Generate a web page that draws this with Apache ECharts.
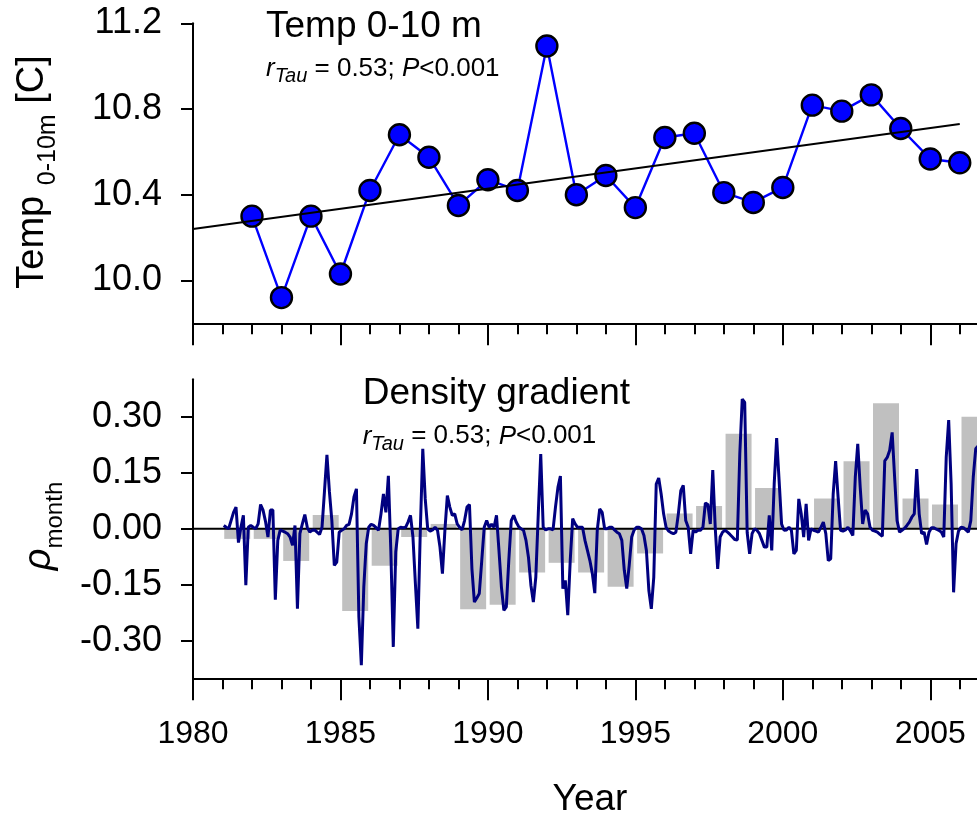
<!DOCTYPE html>
<html>
<head>
<meta charset="utf-8">
<script src="https://cdn.jsdelivr.net/npm/echarts@6/dist/echarts.min.js"></script>
<style>
  html, body { margin: 0; padding: 0; background: #fff; }
  #chart { width: 977px; height: 820px; }
</style>
</head>
<body>
<div id="chart"></div>
<script>
// Annual mean temperature of the 0-10 m layer
const tempYears = [1982, 1983, 1984, 1985, 1986, 1987, 1988, 1989, 1990, 1991, 1992, 1993, 1994,
  1995, 1996, 1997, 1998, 1999, 2000, 2001, 2002, 2003, 2004, 2005, 2006];
const tempValues = [10.30, 9.92, 10.30, 10.03, 10.42, 10.68, 10.575, 10.35, 10.47, 10.42, 11.094, 10.40, 10.49,
  10.34, 10.667, 10.687, 10.41, 10.364, 10.434, 10.818, 10.79, 10.866, 10.709, 10.567, 10.549];

// Linear trend of the temperature series (end points)
const trendYears = [1980, 2006];
const trendValues = [10.24, 10.73];

// Monthly density gradient anomaly, January 1981 onwards
const densityStartYear = 1981;
const densityMonthly = [
  0.009, 0.004, 0.0, 0.022, 0.044, 0.058, -0.037, 0.004, 0.036, -0.151, 0.004, 0.009,
  0.004, 0.0, 0.013, 0.065, 0.05, 0.02, -0.022, 0.05, 0.05, -0.19, -0.031, -0.003,
  -0.006, -0.009, -0.013, -0.022, -0.044, 0.009, -0.214, -0.013, 0.013, 0.038, 0.004, -0.009,
  -0.004, -0.003, -0.009, -0.015, 0.004, 0.10, 0.198, 0.10, 0.022, -0.098, -0.089, -0.009,
  -0.004, 0.0, 0.009, 0.012, 0.04, 0.085, 0.107, -0.236, -0.365, -0.156, -0.04, 0.004,
  0.012, 0.009, 0.003, -0.004, 0.04, 0.093, 0.044, 0.142, -0.058, -0.316, -0.062, 0.0,
  0.004, 0.003, 0.004, 0.018, 0.036, -0.022, -0.147, -0.267, -0.004, 0.214, 0.08, 0.0,
  -0.006, -0.003, 0.004, -0.004, -0.049, -0.12, -0.004, 0.089, 0.058, 0.036, 0.04, 0.013,
  0.004, -0.003, 0.022, 0.058, 0.065, -0.107, -0.196, -0.185, -0.173, -0.085, 0.004, 0.022,
  0.004, 0.012, 0.004, 0.036, -0.058, -0.156, -0.218, -0.209, -0.085, 0.022, 0.036, 0.018,
  0.006, 0.0, -0.004, -0.031, -0.076, -0.151, -0.196, -0.129, 0.04, 0.2, 0.004, -0.003,
  0.0, 0.0, -0.003, 0.058, 0.111, 0.141, -0.16, -0.138, -0.231, -0.085, 0.027, 0.013,
  0.004, 0.004, 0.004, -0.031, -0.058, -0.085, -0.12, -0.172, -0.004, 0.053, 0.044, 0.0,
  0.0, 0.004, 0.004, -0.003, -0.009, -0.013, -0.031, -0.111, -0.16, -0.098, -0.022, -0.003,
  0.004, 0.004, 0.0, -0.018, -0.058, -0.165, -0.214, -0.129, 0.12, 0.136, 0.093, 0.04,
  0.004, -0.006, -0.01, -0.013, -0.009, 0.04, 0.102, 0.116, 0.022, 0.004, -0.067, -0.004,
  -0.009, -0.004, -0.004, 0.004, 0.069, 0.065, 0.013, 0.157, 0.004, -0.107, -0.022, -0.009,
  -0.004, -0.009, -0.015, -0.022, -0.029, -0.03, 0.2, 0.347, 0.338, -0.01, -0.067, -0.013,
  0.0, -0.004, -0.013, -0.031, -0.049, -0.049, 0.036, -0.058, 0.12, 0.243, 0.129, 0.013,
  -0.004, -0.003, 0.004, -0.004, -0.067, -0.058, 0.08, 0.04, -0.022, 0.067, -0.031, 0.0,
  -0.004, -0.006, -0.009, 0.004, 0.018, -0.013, -0.085, -0.08, 0.093, 0.181, 0.085, -0.004,
  -0.006, -0.003, 0.004, -0.006, -0.018, 0.138, 0.227, 0.111, 0.013, 0.05, 0.04, 0.004,
  -0.004, -0.006, -0.009, -0.015, -0.02, 0.182, 0.191, 0.21, 0.258, 0.138, 0.022, -0.009,
  -0.004, 0.001, 0.009, 0.018, 0.031, 0.04, 0.16, 0.04, -0.013, -0.009, -0.042, -0.009,
  0.003, 0.003, -0.001, -0.004, -0.009, -0.022, 0.191, 0.291, 0.12, -0.17, -0.04, -0.006,
  0.004, 0.003, -0.003, -0.009, 0.022, 0.138, 0.214, 0.222
];

// Annual means of the density gradient (grey bars)
const barYears = [1981, 1982, 1983, 1984, 1985, 1986, 1987, 1988, 1989, 1990, 1991, 1992, 1993,
  1994, 1995, 1996, 1997, 1998, 1999, 2000, 2001, 2002, 2003, 2004, 2005, 2006];
const barValues = [-0.027, -0.027, -0.086, 0.037, -0.22, -0.099, -0.022, 0.013, -0.215, -0.203, -0.117, -0.091, -0.117,
  -0.155, -0.066, 0.041, 0.061, 0.254, 0.109, 0.004, 0.081, 0.181, 0.336, 0.081, 0.065, 0.30];

// Tick positions
const tempTicks = [10.0, 10.4, 10.8, 11.2];
const densityTicks = [-0.30, -0.15, 0.0, 0.15, 0.30];
const zeroLineYears = [1980, 2010];

const FONT = 'Liberation Sans, Arial, sans-serif';

const tempData = tempYears.map((y, i) => [y, tempValues[i]]);
const trendData = trendYears.map((y, i) => [y, trendValues[i]]);
const monthlyData = densityMonthly.map((v, i) => [densityStartYear + (i + 0.5) / 12, v]);
const barData = barYears.map((y, i) => [y + 0.5, barValues[i]]);
const zeroData = zeroLineYears.map(y => [y, 0]);

// 30 years of axis; the plot runs past the right edge of the page
const pxPerYear = 29.49;
const gridWidth = pxPerYear * 30;

function xAxisDef(gridIndex, showLabels) {
  return {
    type: 'value', gridIndex, min: 1980, max: 2010, interval: 5,
    axisLine: { onZero: false, lineStyle: { color: '#000', width: 2 } },
    axisTick: { show: true, length: 22, lineStyle: { color: '#000', width: 2 } },
    minorTick: { show: true, splitNumber: 5, length: 11, lineStyle: { color: '#000', width: 2 } },
    splitLine: { show: false },
    minorSplitLine: { show: false },
    axisLabel: {
      show: showLabels, color: '#000', fontFamily: FONT, fontSize: 32, margin: 40,
      showMaxLabel: false, formatter: v => String(Math.round(v))
    }
  };
}

function yAxisDef(gridIndex, min, max, ticks, digits) {
  return {
    type: 'value', gridIndex, min, max,
    axisLine: { show: true, onZero: false, lineStyle: { color: '#000', width: 2 } },
    axisTick: { show: true, length: 12, customValues: ticks, lineStyle: { color: '#000', width: 2 } },
    splitLine: { show: false },
    axisLabel: {
      color: '#000', fontFamily: FONT, fontSize: 36, margin: 31,
      customValues: ticks, formatter: v => Number(v).toFixed(digits)
    }
  };
}

const subRich = {
  i: { fontFamily: FONT, fontStyle: 'italic', fontSize: 26, lineHeight: 36, fill: '#000' },
  n: { fontFamily: FONT, fontSize: 26, lineHeight: 36, fill: '#000' },
  s: { fontFamily: FONT, fontStyle: 'italic', fontSize: 20, lineHeight: 19, verticalAlign: 'bottom', fill: '#000' }
};
const statText = '{i|r}{s|Tau}{n| = 0.53; }{i|P}{n|<0.001}';

const chart = echarts.init(document.getElementById('chart'), null, { renderer: 'canvas' });
chart.setOption({
  animation: false,
  backgroundColor: '#fff',
  textStyle: { fontFamily: FONT },
  grid: [
    { left: 193, top: 23.3, width: gridWidth, height: 300, outerBoundsMode: 'none' },
    { left: 193, top: 379.3, width: gridWidth, height: 299, outerBoundsMode: 'none' }
  ],
  xAxis: [xAxisDef(0, false), xAxisDef(1, true)],
  yAxis: [
    yAxisDef(0, 9.8, 11.2, tempTicks, 1),
    yAxisDef(1, -0.4, 0.4, densityTicks, 2)
  ],
  series: [
    {
      name: 'Temp 0-10 m', type: 'line', xAxisIndex: 0, yAxisIndex: 0, data: tempData,
      lineStyle: { color: '#0000ff', width: 2.4 },
      symbol: 'circle', symbolSize: 21,
      itemStyle: { color: '#0000ff', borderColor: '#000', borderWidth: 2.4 },
      z: 2
    },
    {
      name: 'Trend', type: 'line', xAxisIndex: 0, yAxisIndex: 0, data: trendData,
      showSymbol: false, symbol: 'none',
      lineStyle: { color: '#000', width: 2 },
      z: 4
    },
    {
      name: 'Annual mean', type: 'bar', xAxisIndex: 1, yAxisIndex: 1, data: barData,
      barWidth: 26, itemStyle: { color: '#c0c0c0' }, z: 1
    },
    {
      name: 'Zero', type: 'line', xAxisIndex: 1, yAxisIndex: 1, data: zeroData,
      showSymbol: false, symbol: 'none',
      lineStyle: { color: '#000', width: 2 }, z: 2
    },
    {
      name: 'Density gradient', type: 'line', xAxisIndex: 1, yAxisIndex: 1, data: monthlyData,
      showSymbol: false, symbol: 'none',
      lineStyle: { color: '#000080', width: 3 }, z: 3
    }
  ],
  graphic: [
    {
      type: 'text', x: 266, y: 27,
      style: { text: 'Temp 0-10 m', fontFamily: FONT, fontSize: 37, fill: '#000', align: 'left', verticalAlign: 'middle' }
    },
    {
      type: 'text', x: 266, y: 50.6,
      style: { text: statText, rich: subRich, align: 'left', verticalAlign: 'top', fill: '#000' }
    },
    {
      type: 'text', x: 362.7, y: 394,
      style: { text: 'Density gradient', fontFamily: FONT, fontSize: 37, fill: '#000', align: 'left', verticalAlign: 'middle' }
    },
    {
      type: 'text', x: 362.7, y: 418.3,
      style: { text: statText, rich: subRich, align: 'left', verticalAlign: 'top', fill: '#000' }
    },
    {
      type: 'text', x: 33, y: 172, rotation: Math.PI / 2,
      style: {
        text: '{m|Temp }{s|0-10m}{m| [C]}',
        rich: {
          m: { fontFamily: FONT, fontSize: 38, lineHeight: 56, fill: '#000' },
          s: { fontFamily: FONT, fontSize: 25, lineHeight: 25, verticalAlign: 'bottom', fill: '#000' }
        },
        align: 'center', verticalAlign: 'middle'
      }
    },
    {
      type: 'text', x: 39.7, y: 526, rotation: Math.PI / 2,
      style: {
        text: '{m|ρ}{s|month}',
        rich: {
          m: { fontFamily: FONT, fontStyle: 'italic', fontSize: 38, lineHeight: 56, fill: '#000' },
          s: { fontFamily: FONT, fontSize: 24, lineHeight: 24, verticalAlign: 'bottom', fill: '#000' }
        },
        align: 'center', verticalAlign: 'middle'
      }
    },
    {
      type: 'text', x: 590, y: 800,
      style: { text: 'Year', fontFamily: FONT, fontSize: 37, fill: '#000', align: 'center', verticalAlign: 'middle' }
    }
  ]
});
</script>
</body>
</html>
